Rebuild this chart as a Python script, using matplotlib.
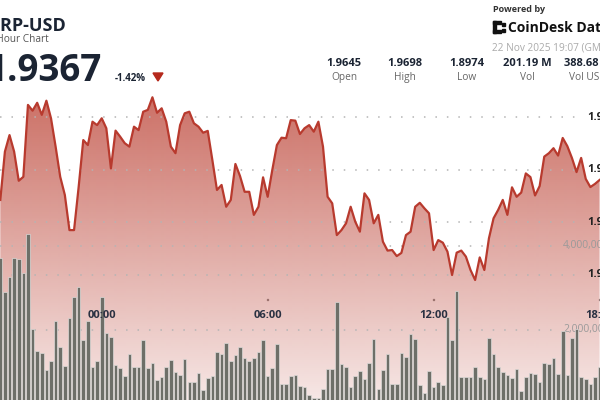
import numpy as np
import pandas as pd
import matplotlib
matplotlib.use('Agg')
import matplotlib.pyplot as plt
from matplotlib.patches import Polygon, Rectangle
from matplotlib.colors import to_rgb

plt.rcParams['font.family'] = ['Open Sans', 'DejaVu Sans']

# 10 minute candles, close price and volume
times = pd.date_range('2025-11-21 20:20', periods=131, freq='10min')
price = [1.9286, 1.9470, 1.9533, 1.9470, 1.9359, 1.9374, 1.9648, 1.9626, 1.9656, 1.9610,
         1.9664, 1.9597, 1.9489, 1.9374, 1.9305, 1.9171, 1.9171, 1.9336, 1.9514, 1.9495,
         1.9584, 1.9571, 1.9597, 1.9559, 1.9406, 1.9550, 1.9527, 1.9502, 1.9489, 1.9565,
         1.9552, 1.9622, 1.9629, 1.9677, 1.9618, 1.9635, 1.9584, 1.9489, 1.9464, 1.9571,
         1.9616, 1.9622, 1.9578, 1.9565, 1.9542, 1.9549, 1.9438, 1.9324, 1.9343, 1.9260,
         1.9286, 1.9423, 1.9377, 1.9317, 1.9317, 1.9229, 1.9260, 1.9372, 1.9298, 1.9400,
         1.9495, 1.9523, 1.9521, 1.9590, 1.9588, 1.9537, 1.9559, 1.9571, 1.9546, 1.9584,
         1.9489, 1.9298, 1.9273, 1.9152, 1.9171, 1.9197, 1.9260, 1.9203, 1.9165, 1.9311,
         1.9286, 1.9197, 1.9229, 1.9127, 1.9093, 1.9095, 1.9072, 1.9084, 1.9152, 1.9165,
         1.9260, 1.9275, 1.9254, 1.9235, 1.9095, 1.9133, 1.9123, 1.9089, 1.9000, 1.9085,
         1.9093, 1.9070, 1.9019, 1.8981, 1.9067, 1.9019, 1.9140, 1.9216, 1.9248, 1.9286,
         1.9229, 1.9334, 1.9298, 1.9314, 1.9387, 1.9373, 1.9303, 1.9339, 1.9451, 1.9464,
         1.9483, 1.9455, 1.9522, 1.9491, 1.9446, 1.9392, 1.9446, 1.9366, 1.9335, 1.9347,
         1.9362]
volume_m = [3.72, 2.90, 3.25, 3.71, 3.68, 3.35, 4.29, 2.02, 1.50, 1.46,
            1.05, 1.27, 2.21, 1.60, 1.14, 2.29, 2.78, 3.02, 1.75, 2.21,
            1.11, 1.25, 2.79, 1.92, 1.83, 1.17, 1.09, 0.90, 1.43, 1.13,
            1.13, 1.75, 1.10, 1.21, 0.81, 0.89, 1.13, 1.29, 1.01, 0.93,
            1.31, 0.77, 0.75, 0.98, 0.57, 0.85, 0.91, 1.47, 1.44, 1.70,
            1.27, 1.40, 1.60, 1.33, 1.25, 1.34, 1.48, 1.75, 0.90, 1.10,
            1.67, 0.71, 0.71, 0.90, 0.94, 0.66, 0.65, 0.45, 0.37, 0.37,
            0.59, 1.06, 1.06, 2.66, 1.19, 1.11, 0.64, 0.91, 1.03, 0.83,
            1.21, 1.79, 0.60, 1.05, 1.42, 0.71, 0.71, 1.46, 1.35, 1.90,
            1.79, 0.69, 0.49, 1.03, 0.64, 0.75, 0.69, 2.30, 1.76, 2.93,
            0.89, 0.89, 0.89, 1.11, 0.89, 0.83, 1.80, 1.43, 1.11, 1.01,
            0.93, 0.85, 1.06, 0.55, 0.89, 0.98, 0.95, 0.77, 1.22, 1.19,
            1.34, 0.95, 1.98, 0.93, 1.80, 2.02, 0.89, 0.83, 0.71, 0.89,
            1.11]
price_ticks = [1.96, 1.94, 1.92, 1.90]
volume_ticks = [4000000, 2000000]
stat_values = ['1.9645', '1.9698', '1.8974', '201.19 M', '388.68 M']
stat_names = ['Open', 'High', 'Low', 'Vol', 'Vol USD']

W, H = 600, 400
fig = plt.figure(figsize=(6, 4), dpi=100)


def px(x, y):
    # pixel position (from top-left) -> figure fraction
    return x / W, 1 - y / H


x = np.arange(len(price))
volume = np.array(volume_m) * 1e6

# price layer: gradient fill + grid (the view is a crop of a wider chart)
ax = fig.add_axes([0, 0, 1, 1], zorder=1)
ax.set_xlim(-0.065, 130.09)
ax.set_ylim(1.85238, 2.00476)
ax.axis('off')

x0, x1 = ax.get_xlim()
y0, y1 = ax.get_ylim()
poly = Polygon([(x[0], y0)] + list(zip(x, price)) + [(x[-1], y0)],
               closed=True, facecolor='none', edgecolor='none')
ax.add_patch(poly)
rows = np.arange(H)
alpha = np.clip(0.72 - (rows - 97) / 303 * 0.60, 0.10, 0.72)
grad = np.zeros((H, 1, 4))
grad[..., :3] = to_rgb('#b8392b')
grad[..., 3] = alpha[:, None]
im = ax.imshow(grad, extent=[x0, x1, y0, y1], aspect='auto', origin='upper',
               interpolation='bilinear', zorder=1)
im.set_clip_path(poly)

for p in price_ticks:
    ax.axhline(p, xmin=0, xmax=0.965, color='#b4b4b4', lw=1.1,
               ls=(0, (1, 6.5)), zorder=2)
    yy = ax.transData.transform((0, p))[1]
    fig.text(587 / W, yy / H, '%.2f' % p, fontsize=8, fontweight='bold',
             color='#222222', va='center', ha='left')

# volume layer
axv = fig.add_axes([0, 0, 1, 1], zorder=2)
axv.patch.set_alpha(0)
axv.set_xlim(-0.065, 130.09)
axv.set_ylim(0.333e6, 9.857e6)
axv.axis('off')
for v in volume_ticks:
    yy = axv.transData.transform((0, v))[1]
    line_y = ax.transData.inverted().transform((0, yy))[1]
    ax.axhline(line_y, xmin=0, xmax=0.925, color='#b4b4b4', lw=1.1,
               ls=(0, (1, 6.5)), zorder=2)
    ax.text(563 / W, yy / H, '{:,}'.format(v), transform=fig.transFigure,
            fontsize=7.5, color='#9a9a9a', va='center', ha='left', zorder=3)

axv.bar(x, volume, width=0.78, bottom=0, color='#6d6f68',
        edgecolor='#dcdad8', linewidth=0.5, zorder=2)
axv.plot(x, price, transform=ax.transData, color='#b83a2e', lw=1.6,
         solid_joinstyle='round', zorder=5)

# time axis labels
for i, t in enumerate(times):
    if t.minute == 0 and t.hour % 6 == 0:
        xp = axv.transData.transform((i, 0))[0]
        fig.text(xp / W, 1 - 315 / H, t.strftime('%H:%M'), fontsize=8,
                 fontweight='bold', color='#2a3142', ha='center', va='center')
        fig.add_artist(Rectangle(px(xp - 0.6, 300), 1.2 / W, 1.2 / H,
                                 transform=fig.transFigure, color='#888888'))

# header left
fig.text(*px(66, 31), 'XRP-USD', fontsize=13, fontweight='bold',
         color='#1b2433', ha='right', va='baseline')
fig.text(*px(49, 42), '24 Hour Chart', fontsize=7.3, color='#555555',
         ha='right', va='baseline')
fig.text(*px(102, 81), '1.9367', fontsize=26.5, fontweight='bold',
         color='#1b2433', ha='right', va='baseline')
fig.text(*px(115, 81), '-1.42%', fontsize=7, fontweight='bold',
         color='#1b2433', ha='left', va='baseline')
fig.add_artist(Polygon([px(153, 73), px(163, 73), px(158, 81)], closed=True,
                       transform=fig.transFigure, color='#b5291c'))

# header right
fig.text(*px(493, 12), 'Powered by', fontsize=6.5, fontweight='bold',
         color='#333333', ha='left', va='baseline')
for (bx, by, bw, bh) in [(493, 21, 3, 12), (493, 21, 8, 3), (493, 30, 8, 3),
                         (502, 23, 2.5, 2.5), (502, 29, 2.5, 2.5)]:
    fig.add_artist(Rectangle(px(bx, by + bh), bw / W, bh / H,
                             transform=fig.transFigure, color='#111111'))
fig.text(*px(508, 32), 'CoinDesk Data', fontsize=10, fontweight='bold',
         color='#111111', ha='left', va='baseline')
fig.text(*px(492, 50), '22 Nov 2025 19:07 (GMT)', fontsize=7.3,
         color='#aaaaaa', ha='left', va='baseline')

for cx, val, name in zip([344, 405, 467, 527, 588], stat_values, stat_names):
    fig.text(*px(cx, 66), val, fontsize=8, fontweight='bold', color='#1b2433',
             ha='center', va='baseline')
    fig.text(*px(cx, 80), name, fontsize=7.3, color='#666666',
             ha='center', va='baseline')

fig.savefig('out.png', dpi=100)
